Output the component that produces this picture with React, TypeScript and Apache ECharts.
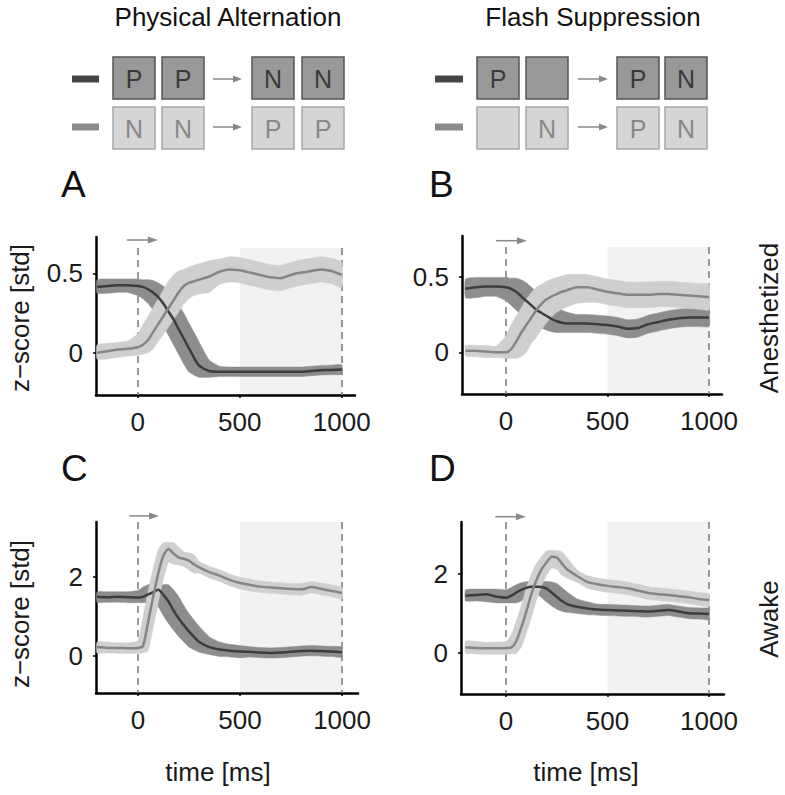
import React, { useEffect, useRef } from 'react';
import * as echarts from 'echarts';

// ---------- data ----------
const time = [-200, -150, -100, -50, 0, 25, 50, 75, 100, 125, 150, 175, 200, 225, 250, 275, 300, 350, 400, 450, 500, 550, 600, 650, 700, 750, 800, 850, 900, 950, 1000];

// Panel A: Physical Alternation, anesthetized
const aDarkMean = [0.415, 0.42, 0.425, 0.425, 0.42, 0.415, 0.40, 0.38, 0.35, 0.31, 0.26, 0.21, 0.15, 0.09, 0.03, -0.03, -0.08, -0.115, -0.12, -0.12, -0.12, -0.12, -0.12, -0.12, -0.12, -0.12, -0.12, -0.115, -0.11, -0.108, -0.105];
const aDarkHi = [0.46, 0.465, 0.465, 0.465, 0.465, 0.46, 0.46, 0.455, 0.44, 0.42, 0.39, 0.35, 0.30, 0.25, 0.19, 0.13, 0.07, -0.045, -0.085, -0.09, -0.09, -0.09, -0.09, -0.09, -0.09, -0.09, -0.09, -0.085, -0.08, -0.078, -0.075];
const aDarkLo = [0.375, 0.375, 0.38, 0.38, 0.36, 0.34, 0.31, 0.27, 0.22, 0.17, 0.11, 0.05, -0.01, -0.07, -0.12, -0.14, -0.155, -0.155, -0.15, -0.15, -0.15, -0.15, -0.15, -0.15, -0.15, -0.15, -0.15, -0.145, -0.14, -0.138, -0.135];
const aLightMean = [0.0, 0.01, 0.02, 0.025, 0.035, 0.05, 0.08, 0.13, 0.18, 0.23, 0.28, 0.33, 0.38, 0.42, 0.44, 0.45, 0.46, 0.48, 0.51, 0.525, 0.52, 0.505, 0.49, 0.475, 0.47, 0.49, 0.505, 0.515, 0.525, 0.515, 0.49];
const aLightHi = [0.05, 0.06, 0.065, 0.075, 0.12, 0.175, 0.23, 0.285, 0.34, 0.395, 0.45, 0.49, 0.515, 0.525, 0.54, 0.55, 0.56, 0.58, 0.59, 0.605, 0.60, 0.585, 0.57, 0.555, 0.55, 0.57, 0.585, 0.595, 0.605, 0.595, 0.57];
const aLightLo = [-0.04, -0.04, -0.03, -0.02, -0.015, -0.01, 0.0, 0.025, 0.07, 0.115, 0.16, 0.21, 0.255, 0.305, 0.34, 0.36, 0.37, 0.38, 0.43, 0.445, 0.44, 0.425, 0.41, 0.395, 0.39, 0.41, 0.425, 0.435, 0.445, 0.435, 0.41];

// Panel B: Flash Suppression, anesthetized
const bDarkMean = [0.42, 0.43, 0.435, 0.435, 0.43, 0.42, 0.40, 0.37, 0.34, 0.31, 0.28, 0.26, 0.24, 0.22, 0.205, 0.195, 0.19, 0.19, 0.19, 0.185, 0.18, 0.17, 0.155, 0.16, 0.185, 0.2, 0.215, 0.225, 0.23, 0.23, 0.23];
const bDarkHi = [0.485, 0.495, 0.495, 0.495, 0.495, 0.49, 0.49, 0.48, 0.46, 0.43, 0.40, 0.37, 0.34, 0.32, 0.30, 0.28, 0.265, 0.25, 0.25, 0.245, 0.24, 0.23, 0.215, 0.22, 0.245, 0.26, 0.275, 0.285, 0.29, 0.29, 0.29];
const bDarkLo = [0.36, 0.36, 0.37, 0.37, 0.34, 0.31, 0.28, 0.25, 0.22, 0.20, 0.18, 0.16, 0.145, 0.135, 0.13, 0.13, 0.13, 0.13, 0.13, 0.125, 0.12, 0.11, 0.095, 0.10, 0.125, 0.14, 0.155, 0.165, 0.17, 0.17, 0.17];
const bLightMean = [0.01, 0.01, 0.005, 0.0, 0.0, 0.02, 0.07, 0.13, 0.18, 0.23, 0.28, 0.32, 0.35, 0.37, 0.385, 0.40, 0.41, 0.43, 0.43, 0.415, 0.40, 0.39, 0.38, 0.38, 0.38, 0.385, 0.385, 0.38, 0.375, 0.37, 0.365];
const bLightHi = [0.045, 0.045, 0.045, 0.04, 0.11, 0.18, 0.24, 0.295, 0.35, 0.395, 0.43, 0.45, 0.47, 0.485, 0.495, 0.505, 0.515, 0.515, 0.515, 0.50, 0.485, 0.475, 0.465, 0.465, 0.465, 0.47, 0.47, 0.465, 0.46, 0.455, 0.45];
const bLightLo = [-0.025, -0.03, -0.035, -0.035, -0.04, -0.04, -0.04, -0.03, 0.0, 0.06, 0.10, 0.15, 0.195, 0.235, 0.265, 0.285, 0.30, 0.325, 0.33, 0.33, 0.315, 0.305, 0.295, 0.295, 0.295, 0.30, 0.30, 0.295, 0.29, 0.285, 0.28];

// Panel C: Physical Alternation, awake
const cDarkMean = [1.5, 1.49, 1.5, 1.49, 1.48, 1.5, 1.56, 1.62, 1.68, 1.55, 1.38, 1.15, 0.95, 0.78, 0.62, 0.48, 0.35, 0.22, 0.16, 0.13, 0.11, 0.10, 0.08, 0.07, 0.08, 0.10, 0.12, 0.13, 0.12, 0.11, 0.09];
const cDarkHi = [1.63, 1.63, 1.63, 1.63, 1.66, 1.75, 1.81, 1.81, 1.81, 1.81, 1.81, 1.68, 1.51, 1.28, 1.08, 0.91, 0.75, 0.48, 0.35, 0.29, 0.26, 0.23, 0.21, 0.20, 0.21, 0.23, 0.25, 0.26, 0.25, 0.24, 0.22];
const cDarkLo = [1.36, 1.36, 1.36, 1.35, 1.35, 1.35, 1.35, 1.37, 1.25, 1.02, 0.82, 0.65, 0.49, 0.35, 0.22, 0.15, 0.09, 0.03, -0.02, -0.03, -0.05, -0.03, -0.05, -0.06, -0.05, -0.03, -0.01, 0.0, -0.01, -0.02, -0.04];
const cLightMean = [0.22, 0.2, 0.2, 0.19, 0.2, 0.25, 0.85, 1.5, 2.1, 2.55, 2.72, 2.6, 2.5, 2.47, 2.42, 2.33, 2.25, 2.13, 2.04, 1.93, 1.85, 1.8, 1.76, 1.74, 1.72, 1.7, 1.69, 1.75, 1.7, 1.65, 1.6];
const cLightHi = [0.35, 0.35, 0.33, 0.33, 0.38, 0.98, 1.63, 2.23, 2.7, 2.88, 2.89, 2.88, 2.76, 2.65, 2.62, 2.57, 2.40, 2.28, 2.19, 2.08, 2.0, 1.95, 1.9, 1.88, 1.86, 1.84, 1.84, 1.89, 1.85, 1.8, 1.74];
const cLightLo = [0.07, 0.07, 0.06, 0.06, 0.06, 0.07, 0.12, 0.72, 1.35, 1.95, 2.38, 2.33, 2.31, 2.27, 2.18, 2.1, 2.1, 1.98, 1.89, 1.78, 1.70, 1.65, 1.61, 1.59, 1.57, 1.55, 1.54, 1.60, 1.55, 1.5, 1.45];

// Panel D: Flash Suppression, awake
const dDarkMean = [1.45, 1.47, 1.49, 1.43, 1.40, 1.45, 1.53, 1.6, 1.65, 1.68, 1.68, 1.67, 1.63, 1.53, 1.42, 1.32, 1.24, 1.17, 1.13, 1.1, 1.09, 1.08, 1.07, 1.06, 1.05, 1.07, 1.09, 1.05, 1.01, 1.0, 0.99];
const dDarkHi = [1.6, 1.62, 1.62, 1.62, 1.6, 1.66, 1.73, 1.78, 1.81, 1.81, 1.81, 1.81, 1.81, 1.8, 1.76, 1.66, 1.55, 1.37, 1.3, 1.24, 1.23, 1.22, 1.21, 1.2, 1.19, 1.21, 1.23, 1.19, 1.15, 1.14, 1.13];
const dDarkLo = [1.32, 1.32, 1.30, 1.27, 1.27, 1.27, 1.27, 1.32, 1.40, 1.47, 1.50, 1.40, 1.29, 1.19, 1.11, 1.06, 1.03, 1.0, 0.97, 0.96, 0.95, 0.94, 0.93, 0.92, 0.91, 0.93, 0.95, 0.91, 0.87, 0.86, 0.85];
const dLightMean = [0.15, 0.13, 0.12, 0.12, 0.13, 0.14, 0.3, 0.65, 1.05, 1.5, 1.85, 2.12, 2.3, 2.44, 2.42, 2.27, 2.12, 1.95, 1.8, 1.74, 1.7, 1.67, 1.64, 1.58, 1.52, 1.49, 1.47, 1.44, 1.41, 1.37, 1.34];
const dLightHi = [0.3, 0.3, 0.27, 0.28, 0.29, 0.45, 0.8, 1.2, 1.65, 2.0, 2.27, 2.45, 2.59, 2.6, 2.59, 2.57, 2.42, 2.11, 1.96, 1.9, 1.86, 1.83, 1.8, 1.74, 1.68, 1.65, 1.63, 1.6, 1.57, 1.53, 1.5];
const dLightLo = [0.0, -0.02, -0.03, -0.03, -0.03, -0.02, -0.01, 0.15, 0.5, 0.9, 1.35, 1.7, 1.97, 2.15, 2.12, 1.97, 1.9, 1.79, 1.64, 1.58, 1.54, 1.51, 1.48, 1.42, 1.36, 1.33, 1.31, 1.28, 1.25, 1.21, 1.18];

// tick labels
const xTicks = [0, 500, 1000];
const yTicksAnest = [0, 0.5];
const yTicksAwake = [0, 2];

// annotation values (ms)
const stimOnset = 0;
const windowStart = 500;
const windowEnd = 1000;
const arrowFrom = [-54, -49, -42, -53];
const arrowTo = [98, 103, 104, 98];

// header labels
const leftTopRow = ['P', 'P', 'N', 'N'];
const leftBottomRow = ['N', 'N', 'P', 'P'];
const rightTopRow = ['P', '', 'P', 'N'];
const rightBottomRow = ['', 'N', 'P', 'N'];

// ---------- layout / style ----------
const FONT = "'Liberation Sans', Arial, Helvetica, sans-serif";
const DARK_LINE = '#3d3d3d';
const DARK_BAND = '#8d8d8d';
const LIGHT_LINE = '#858585';
const LIGHT_BAND = '#cfcfcf';
const SHADE = '#f2f2f2';

const panels = [
  { dark: [aDarkMean, aDarkLo, aDarkHi], light: [aLightMean, aLightLo, aLightHi], grid: { left: 96, top: 237, width: 259, height: 158 }, x: [-205, 1065], y: [-0.266, 0.729], yTicks: yTicksAnest, shadeTop: 0.659, arrowY: 0.71 },
  { dark: [bDarkMean, bDarkLo, bDarkHi], light: [bLightMean, bLightLo, bLightHi], grid: { left: 462, top: 236, width: 260, height: 158 }, x: [-217, 1064], y: [-0.276, 0.769], yTicks: yTicksAnest, shadeTop: 0.696, arrowY: 0.738 },
  { dark: [cDarkMean, cDarkLo, cDarkHi], light: [cLightMean, cLightLo, cLightHi], grid: { left: 96, top: 522, width: 262, height: 171 }, x: [-205, 1078], y: [-0.948, 3.405], yTicks: yTicksAwake, shadeTop: 3.405, arrowY: 3.56 },
  { dark: [dDarkMean, dDarkLo, dDarkHi], light: [dLightMean, dLightLo, dLightHi], grid: { left: 461, top: 522, width: 263, height: 172 }, x: [-222, 1074], y: [-1.035, 3.316], yTicks: yTicksAwake, shadeTop: 3.316, arrowY: 3.45 },
];

const SMOOTH = 0.25;

// band (mean +/- spread) drawn as one polygon through the axes' own scale
function bandSeries(gi: number, lo: number[], hi: number[], color: string) {
  return {
    type: 'custom', xAxisIndex: gi, yAxisIndex: gi, silent: true, clip: true,
    data: time.map((t, i) => [t, lo[i], hi[i]]),
    encode: { x: 0, y: [1, 2] },
    renderItem: (params: any, api: any) => {
      if (params.dataIndex !== 0) return null;
      const n = time.length;
      const upper: number[][] = [];
      const lower: number[][] = [];
      for (let i = 0; i < n; i++) {
        upper.push(api.coord([api.value(0, i), api.value(2, i)]));
        lower.push(api.coord([api.value(0, i), api.value(1, i)]));
      }
      lower.reverse();
      return {
        type: 'polygon',
        shape: { points: upper.concat(lower), smooth: 0.15 },
        style: { fill: color, stroke: color, lineWidth: 0.5 },
      };
    },
  };
}

function meanSeries(gi: number, mean: number[], color: string, extra: any = {}) {
  return {
    type: 'line', xAxisIndex: gi, yAxisIndex: gi, data: time.map((t, i) => [t, mean[i]]),
    symbol: 'none', smooth: SMOOTH, silent: true, lineStyle: { color, width: 2.5 }, ...extra,
  };
}

function buildOption() {
  const grid: any[] = [];
  const xAxis: any[] = [];
  const yAxis: any[] = [];
  const series: any[] = [];
  const fmt = (v: number) => String(v);
  panels.forEach((p, gi) => {
    grid.push({ ...p.grid, containLabel: false });
    xAxis.push({
      type: 'value', gridIndex: gi, min: p.x[0], max: p.x[1],
      axisLine: { show: true, onZero: false, lineStyle: { color: '#000', width: 2.5 } },
      axisTick: { show: true, customValues: xTicks, length: 3, lineStyle: { color: '#000', width: 1.5 } },
      axisLabel: { customValues: xTicks, formatter: fmt, fontSize: 26, color: '#1a1a1a', margin: 14, fontFamily: FONT },
      splitLine: { show: false },
    });
    yAxis.push({
      type: 'value', gridIndex: gi, min: p.y[0], max: p.y[1],
      axisLine: { show: true, onZero: false, lineStyle: { color: '#000', width: 2.5 } },
      axisTick: { show: true, customValues: p.yTicks, length: 3, lineStyle: { color: '#000', width: 1.5 } },
      axisLabel: { customValues: p.yTicks, formatter: fmt, fontSize: 26, color: '#1a1a1a', margin: 13, fontFamily: FONT },
      splitLine: { show: false },
    });
    // invisible host line carrying the window shading and the dashed markers (drawn first, below bands)
    series.push(meanSeries(gi, p.dark[0], DARK_LINE, {
      lineStyle: { width: 0, opacity: 0 },
      markArea: {
        silent: true, z: 0, itemStyle: { color: SHADE }, label: { show: false },
        data: [[{ coord: [windowStart, p.shadeTop] }, { coord: [windowEnd, p.y[0]] }]],
      },
      markLine: {
        silent: true, z: 1, symbol: ['none', 'none'], label: { show: false },
        lineStyle: { color: '#7a7a7a', width: 1.5, type: [7, 5] },
        data: [
          [{ coord: [stimOnset, p.shadeTop] }, { coord: [stimOnset, p.y[0]] }],
          [{ coord: [windowEnd, p.shadeTop] }, { coord: [windowEnd, p.y[0]] }],
        ],
      },
    }));
    series.push(bandSeries(gi, p.dark[1], p.dark[2], DARK_BAND));
    series.push(bandSeries(gi, p.light[1], p.light[2], LIGHT_BAND));
    series.push(meanSeries(gi, p.dark[0], DARK_LINE));
    series.push(meanSeries(gi, p.light[0], LIGHT_LINE));
  });
  return { animation: false, backgroundColor: '#fff', grid, xAxis, yAxis, series };
}

function text(x: number, y: number, s: string, size: number, fill: string, rotation = 0, align = 'center'): any {
  return {
    type: 'text', x, y, rotation, silent: true,
    style: { text: s, fontSize: size, fontFamily: FONT, fill, textAlign: align, textVerticalAlign: 'middle', align, verticalAlign: 'middle' },
  };
}

function header(legendX: number, legendW: number, boxX: number[], arrowX: number[], top: string[], bottom: string[]) {
  const els: any[] = [];
  const rows = [
    { y: 57, labels: top, fill: '#999999', stroke: '#555555', txt: '#3a3a3a', bar: '#454545', cy: 79 },
    { y: 107, labels: bottom, fill: '#d5d5d5', stroke: '#a8a8a8', txt: '#888888', bar: '#8a8a8a', cy: 127 },
  ];
  rows.forEach((r) => {
    els.push({ type: 'rect', silent: true, shape: { x: legendX, y: r.cy - 3.5, width: legendW, height: 7 }, style: { fill: r.bar } });
    boxX.forEach((bx, i) => {
      els.push({ type: 'rect', silent: true, shape: { x: bx, y: r.y, width: 42, height: 42 }, style: { fill: r.fill, stroke: r.stroke, lineWidth: 1.5 } });
      if (r.labels[i]) els.push(text(bx + 21, r.y + 22, r.labels[i], 25, r.txt));
    });
    els.push({ type: 'line', silent: true, shape: { x1: arrowX[0], y1: r.cy, x2: arrowX[1] - 6, y2: r.cy }, style: { stroke: '#888', lineWidth: 1.5 } });
    els.push({ type: 'polygon', silent: true, shape: { points: [[arrowX[1] - 9, r.cy - 3.5], [arrowX[1], r.cy], [arrowX[1] - 9, r.cy + 3.5]] }, style: { fill: '#888' } });
  });
  return els;
}

function buildGraphics(chart: any) {
  const els: any[] = [];
  els.push(text(228, 17, 'Physical Alternation', 26, '#111'));
  els.push(text(593, 17, 'Flash Suppression', 26, '#111'));
  els.push(...header(72, 27, [113, 162, 252, 302], [213, 242], leftTopRow, leftBottomRow));
  els.push(...header(435, 28, [477, 526, 617, 665], [578, 608], rightTopRow, rightBottomRow));
  els.push(text(61, 184, 'A', 37, '#111', 0, 'left'));
  els.push(text(429, 184, 'B', 37, '#111', 0, 'left'));
  els.push(text(61, 468, 'C', 37, '#111', 0, 'left'));
  els.push(text(429, 468, 'D', 37, '#111', 0, 'left'));
  els.push(text(20, 318, 'z\u2212score [std]', 26, '#1a1a1a', Math.PI / 2));
  els.push(text(20, 614, 'z\u2212score [std]', 26, '#1a1a1a', Math.PI / 2));
  els.push(text(769, 318, 'Anesthetized', 26, '#1a1a1a', Math.PI / 2));
  els.push(text(769, 619, 'Awake', 26, '#1a1a1a', Math.PI / 2));
  els.push(text(218, 772, 'time [ms]', 26, '#1a1a1a'));
  els.push(text(586, 772, 'time [ms]', 26, '#1a1a1a'));
  // stimulus arrows, positioned through the axes
  panels.forEach((p, gi) => {
    const a = chart.convertToPixel({ gridIndex: gi }, [arrowFrom[gi], p.arrowY]);
    const b = chart.convertToPixel({ gridIndex: gi }, [arrowTo[gi], p.arrowY]);
    if (!a || !b) return;
    els.push({ type: 'line', silent: true, shape: { x1: a[0], y1: a[1], x2: b[0] - 6, y2: b[1] }, style: { stroke: '#888', lineWidth: 1.5 } });
    els.push({ type: 'polygon', silent: true, shape: { points: [[b[0] - 10, b[1] - 3.5], [b[0], b[1]], [b[0] - 10, b[1] + 3.5]] }, style: { fill: '#888' } });
  });
  return els;
}

export default function App() {
  const ref = useRef<HTMLDivElement>(null);
  useEffect(() => {
    document.body.style.margin = '0';
    const chart = echarts.init(ref.current!, undefined, { renderer: 'svg' });
    chart.setOption(buildOption() as any);
    chart.setOption({ graphic: buildGraphics(chart) } as any);
    return () => chart.dispose();
  }, []);
  return <div ref={ref} style={{ width: 785, height: 795 }} />;
}
